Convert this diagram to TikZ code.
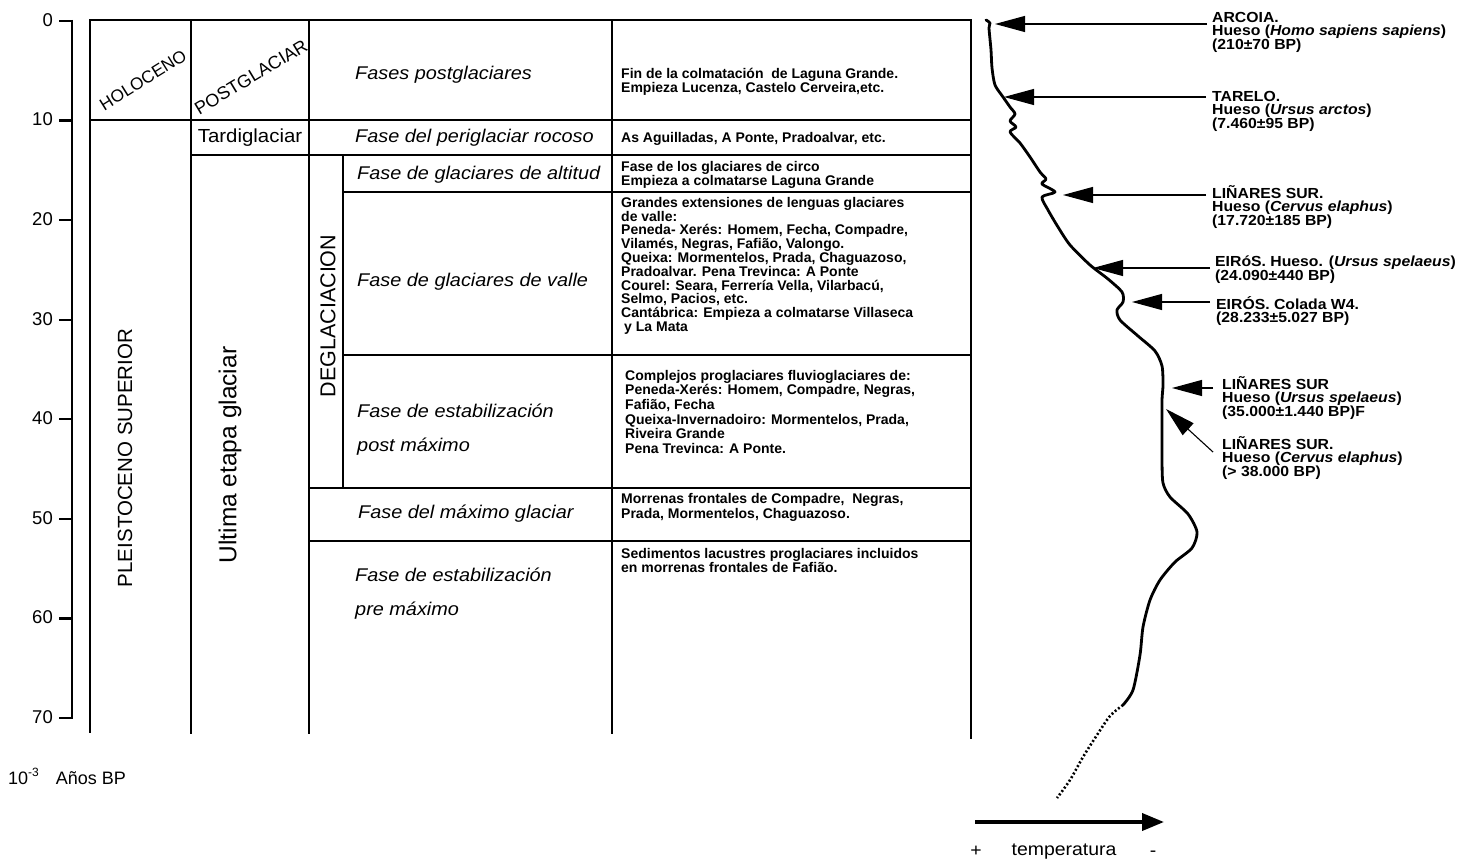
\documentclass[tikz,border=0pt]{standalone}
\usepackage{fontspec}
\setmainfont{Liberation Sans}
\newfontfamily\wide[FakeStretch=1.08]{Liberation Sans}
\usetikzlibrary{arrows.meta}
\newcommand\tls{\lineskiplimit-30pt\relax}
\begin{document}
\begin{tikzpicture}[x=1pt,y=-1pt,
  grid/.style={line width=1.8pt, line cap=rect},
  ax/.style={line width=2.4pt},
  num/.style={font=\fontsize{18.5}{18.5}\selectfont, anchor=east, inner sep=0},
  phase/.style={font=\wide\itshape\fontsize{18.4}{34}\selectfont, anchor=west, inner sep=0, align=left},
  desc/.style={font=\bfseries\fontsize{14}{14.2}\selectfont\tls, anchor=north west, inner sep=0, align=left},
  lab/.style={font=\wide\bfseries\fontsize{14.6}{13.5}\selectfont\tls, anchor=north west, inner sep=0, align=left},
  era/.style={font=\fontsize{#1}{#1}\selectfont, inner sep=0},
  ptr/.style={line width=1.1pt, -{Triangle[length=30pt,width=16pt]}},
  curve/.style={line width=2.8pt, line cap=round, line join=round},
  tlab/.style={font=\wide\fontsize{18}{18}\selectfont, inner sep=0, anchor=base},
]
\useasboundingbox (0,0) rectangle (1458,861);
\fill[white] (0,0) rectangle (1458,861);

% ---- age axis
\draw[ax] (72,20) -- (72,719);
\foreach \k in {0,...,7}{
  \pgfmathsetmacro\yy{21+99.57*\k}
  \draw[ax] (59,\yy) -- (72,\yy);
  \pgfmathtruncatemacro\lab{10*\k}
  \node[num] (n\k) at (53,\yy-1) {\lab};
}
\node[font=\fontsize{18}{18}\selectfont, anchor=base west, inner sep=0] (unit) at (8,784) {10\raisebox{8pt}{\fontsize{12}{12}\selectfont -3}\hspace{17pt}Años BP};

% ---- table grid
\draw[grid] (90,20) -- (971,20);
\draw[grid] (90,20) -- (90,732);
\draw[grid] (191,20) -- (191,733);
\draw[grid] (309,20) -- (309,733);
\draw[grid] (612,20) -- (612,733);
\draw[grid] (971,20) -- (971,738);
\draw[grid] (90,120) -- (971,120);
\draw[grid] (191,155) -- (971,155);
\draw[grid] (343,155) -- (343,488);
\draw[grid] (343,192) -- (971,192);
\draw[grid] (343,355) -- (971,355);
\draw[grid] (309,488) -- (971,488);
\draw[grid] (309,541) -- (971,541);

% ---- chronology labels
\node[era=17.2, rotate=32] (holo) at (143,80) {HOLOCENO};
\node[era=18, rotate=31] (postg) at (251,77) {POSTGLACIAR};
\node[font=\wide\fontsize{18.9}{18.9}\selectfont, inner sep=0] (tardi) at (250,138) {Tardiglaciar};
\node[era=20.5, rotate=90] (pleis) at (125,458) {PLEISTOCENO SUPERIOR};
\node[era=24.5, rotate=90] (ultima) at (230,455) {Ultima etapa glaciar};
\node[era=21.5, rotate=90] (degla) at (328,316) {DEGLACIACION};

% ---- phases
\node[phase] (p1) at (355,75) {Fases postglaciares};
\node[phase] (p2) at (355,138) {Fase del periglaciar rocoso};
\node[phase] (p3) at (357,175) {Fase de glaciares de altitud};
\node[phase] (p4) at (357,282) {Fase de glaciares de valle};
\node[phase] (p5) at (357,430) {Fase de estabilización\\post máximo};
\node[phase] (p6) at (358,514) {Fase del máximo glaciar};
\node[phase] (p7) at (355,594) {Fase de estabilización\\pre máximo};

% ---- descriptions
\node[desc] (d1) at (621,68) {Fin de la colmatación\ \ de Laguna Grande.\\Empieza Lucenza, Castelo Cerveira,etc.};
\node[desc] (d2) at (621,132) {As Aguilladas, A Ponte, Pradoalvar, etc.};
\node[desc] (d3) at (621,161) {Fase de los glaciares de circo\\Empieza a colmatarse Laguna Grande};
\node[desc, font=\bfseries\fontsize{14}{13.8}\selectfont\tls] (d4) at (621,197) {Grandes extensiones de lenguas glaciares\\de valle:\\Peneda- Xerés: Homem, Fecha, Compadre,\\Vilamés, Negras, Fafião, Valongo.\\Queixa: Mormentelos, Prada, Chaguazoso,\\Pradoalvar. Pena Trevinca: A Ponte\\Courel: Seara, Ferrería Vella, Vilarbacú,\\Selmo, Pacios, etc.\\Cantábrica: Empieza a colmatarse Villaseca\\\hspace*{3pt}y La Mata};
\node[desc, font=\bfseries\fontsize{14}{14.6}\selectfont\tls] (d5) at (625,370) {Complejos proglaciares fluvioglaciares de:\\Peneda-Xerés: Homem, Compadre, Negras,\\Fafião, Fecha\\Queixa-Invernadoiro: Mormentelos, Prada,\\Riveira Grande\\Pena Trevinca: A Ponte.};
\node[desc, font=\bfseries\fontsize{14}{15}\selectfont\tls] (d6) at (621,493) {Morrenas frontales de Compadre,\ \ Negras,\\Prada, Mormentelos, Chaguazoso.};
\node[desc, font=\bfseries\fontsize{14}{14.5}\selectfont\tls] (d7) at (621,548) {Sedimentos lacustres proglaciares incluidos\\en morrenas frontales de Fafião.};

% ---- temperature curve
\draw[curve] plot[smooth, tension=0.45] coordinates {
 (986,20) (990,23) (989,28) (991,50) (992,68) (995,85) (1003,97) (1010,107)
 (1015,114) (1010,121) (1016,127) (1010,132) (1020,143) (1030,157) (1040,172)
 (1046,179) (1042,184) (1055,192) (1042,197) (1048,210) (1058,227) (1070,245)
 (1090,265) (1108,279) (1122,292) (1123,302) (1117,310) (1120,320) (1138,336)
 (1155,351) (1162,366) (1163,385) (1162,400) (1162,430) (1162,460) (1163,483)
 (1170,497) (1188,514) (1197,532) (1192,548) (1175,562) (1160,580) (1150,600)
 (1143,627) (1140,655) (1133,690) (1123,705)};
\draw[line width=2.6pt, dash pattern=on 2pt off 2.2pt] plot[smooth, tension=0.5] coordinates {
 (1123,705) (1110,716) (1097,735) (1083,757) (1070,780) (1057,798)};

% ---- dated samples
\node[lab] (arcoia) at (1212,12) {ARCOIA.\\Hueso (\textit{Homo sapiens sapiens})\\(210±70 BP)};
\node[lab] (tarelo) at (1212,91) {TARELO.\\Hueso (\textit{Ursus arctos})\\(7.460±95 BP)};
\node[lab] (lin1) at (1212,185) {LIÑARES SUR.\\Hueso (\textit{Cervus elaphus})\\(17.720±185 BP)};
\node[lab] (eir1) at (1215,256) {EIRóS. Hueso. (\textit{Ursus spelaeus})\\(24.090±440 BP)};
\node[lab] (eir2) at (1216,296) {EIRÓS. Colada W4.\\(28.233±5.027 BP)};
\node[lab] (lin2) at (1222,376) {LIÑARES SUR\\Hueso (\textit{Ursus spelaeus})\\(35.000±1.440 BP)F};
\node[lab] (lin3) at (1222,436) {LIÑARES SUR.\\Hueso (\textit{Cervus elaphus})\\(> 38.000 BP)};

\coordinate (tA) at (995,24);   \coordinate (sA) at (1207,24);
\coordinate (tT) at (1004,97);  \coordinate (sT) at (1206,97);
\coordinate (tL) at (1063,195); \coordinate (sL) at (1206,195);
\coordinate (tE) at (1093,268); \coordinate (sE) at (1210,268);
\coordinate (tC) at (1132,302); \coordinate (sC) at (1210,302);
\coordinate (tM) at (1172,388); \coordinate (sM) at (1213,388);
\coordinate (tN) at (1166,409); \coordinate (sN) at (1213,452);
\draw[ptr] (sA) -- (tA);
\draw[ptr] (sT) -- (tT);
\draw[ptr] (sL) -- (tL);
\draw[ptr] (sE) -- (tE);
\draw[ptr] (sC) -- (tC);
\draw[ptr] (sM) -- (tM);
\draw[ptr] (sN) -- (tN);

% ---- temperature axis
\coordinate (ta0) at (975,822);
\coordinate (ta1) at (1164,822);
\draw[line width=3.8pt, -{Triangle[length=22pt,width=17pt]}] (ta0) -- (ta1);
\node[tlab] (plus) at (976,856) {+};
\node[tlab] (temp) at (1064,855) {temperatura};
\node[tlab] (minus) at (1153,856) {-};
\end{tikzpicture}
\end{document}
